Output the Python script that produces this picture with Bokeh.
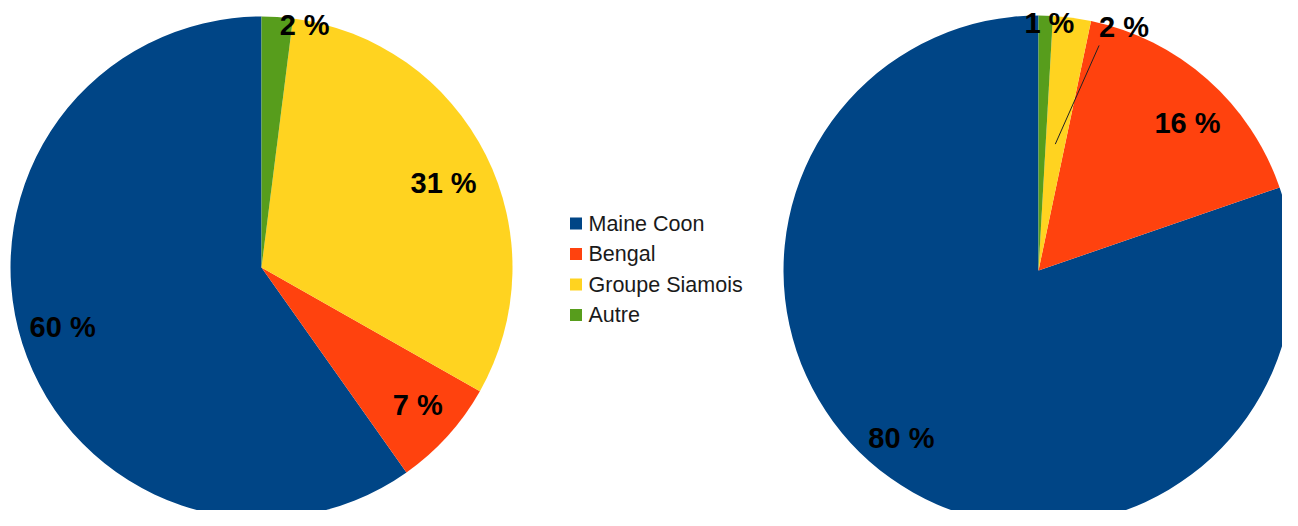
import math
from bokeh.plotting import figure
from bokeh.models import Range1d, ColumnDataSource
from bokeh.core.properties import value
from bokeh.embed import file_html
from bokeh.resources import INLINE

# ---- data ----
categories = ["Maine Coon", "Bengal", "Groupe Siamois", "Autre"]
left_values = [59.8, 7.0, 31.2, 2.0]
right_values = [80.2, 16.4, 2.4, 0.9]
colors = ["#004586", "#ff420e", "#ffd320", "#579d1c"]

W, H = 1282, 510
p = figure(width=W, height=H, output_backend="svg", toolbar_location=None,
           x_range=Range1d(0, W), y_range=Range1d(0, H),
           x_axis_type=None, y_axis_type=None, min_border=0)
p.grid.visible = False
p.outline_line_color = None
p.background_fill_color = "white"

FONT = value("Liberation Sans")


def Y(py):
    # screen y (from top) -> data y
    return H - py


def pie(values, cx, cy, r, label_k, label_nudge, leader=None):
    total = sum(values)
    starts, ends, mids = [], [], []
    acc = 0.0
    for v in values:
        a0 = math.pi / 2 + 2 * math.pi * acc / total
        acc += v
        a1 = math.pi / 2 + 2 * math.pi * acc / total
        starts.append(a0)
        ends.append(a1)
        mids.append((a0 + a1) / 2)
    src = ColumnDataSource(dict(x=[cx] * len(values), y=[cy] * len(values),
                                s=starts, e=ends, c=colors))
    p.wedge(x="x", y="y", radius=r, start_angle="s", end_angle="e",
            fill_color="c", line_color=None, source=src)
    lx, ly, lt = [], [], []
    for i, v in enumerate(values):
        a = mids[i] + math.radians(label_nudge[i])
        lx.append(cx + label_k[i] * r * math.cos(a))
        ly.append(cy + label_k[i] * r * math.sin(a))
        lt.append(f"{round(v)} %")
    if leader is not None:
        i, k0, k1, nud = leader
        a0 = mids[i]
        a1 = mids[i] + math.radians(nud)
        p.line([cx + k0 * r * math.cos(a0), cx + k1 * r * math.cos(a1)],
               [cy + k0 * r * math.sin(a0), cy + k1 * r * math.sin(a1)],
               line_color="#222222", line_width=1)
    p.text(x=lx, y=ly, text=lt, text_font=FONT, text_font_style="bold",
           text_font_size="29px", text_align="center", text_baseline="middle",
           text_color="#000000")


pie(left_values, 261, Y(267), 251,
    [0.827, 0.829, 0.80, 0.98], [-1.0, 0.8, -1.7, -6.5])
pie(right_values, 1038, Y(270), 255,
    [0.849, 0.822, 1.011, 0.973], [-3.8, -3.85, -11.8, -0.9],
    leader=(2, 0.5, 0.914, -7.5))

# legend
rows_py = [223, 253.5, 284, 314.5]
ly = [Y(v) for v in rows_py]
p.rect(x=[575.5] * 4, y=ly, width=12, height=12, fill_color=colors,
       line_color=None)
p.text(x=[588] * 4, y=ly, text=categories, text_font=FONT,
       text_font_size="21.5px", text_align="left", text_baseline="middle",
       text_color="#1a1a1a")

open("out.html", "w").write(file_html(p, INLINE))
